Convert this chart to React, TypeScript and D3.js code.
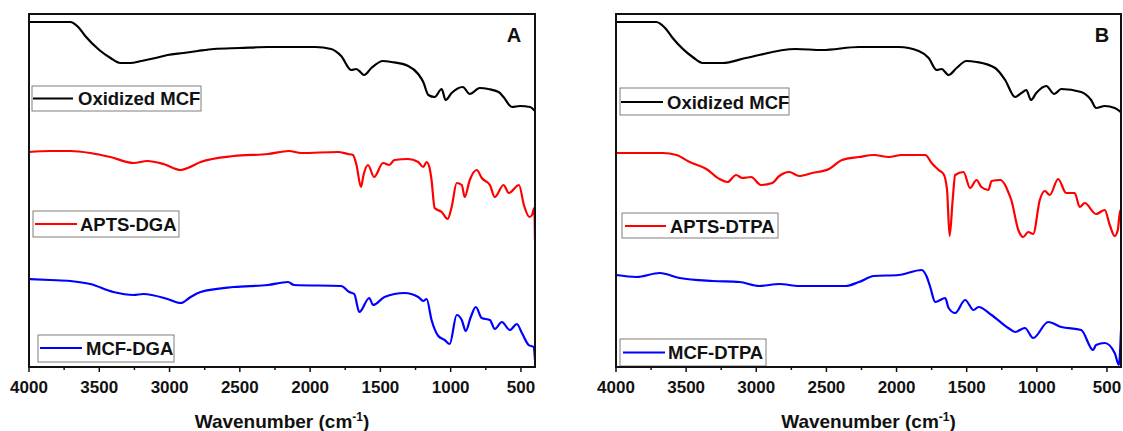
import React from "react";
import * as d3 from "d3";

// Wavenumber (cm-1) / transmittance (a.u.) readings
const oxA_wn = [4000,3850,3707,3650,3600,3500,3420,3350,3280,3200,3100,3014,2900,2800,2686,2500,2300,2100,1964,1850,1779,1707,1671,1650,1616,1564,1481,1421,1302,1231,1195,1159,1114,1064,1036,993,914,864,793,731,659,624,564,507,436,400];
const oxA_v = [345,345,345,340,331,317,309,304,304,306,309,312,314,316,318,319,320,320,320,318,311,297,298,296,292,299,306,305,301,293,285,272,270,278,267,274,280,273,279,278,275,270,260,261,260,256];

const aptsA_wn = [4000,3850,3707,3564,3421,3257,3157,3043,2921,2871,2779,2543,2300,2150,2064,1802,1731,1695,1670,1638,1620,1588,1545,1481,1436,1400,1302,1231,1195,1171,1150,1136,1114,1064,1021,993,957,921,900,864,814,779,721,686,624,586,514,479,440,421,405,400];
const aptsA_v = [215,216,216,214,210,204,206,203,197,199,205,211,213,216,214,215,213,212,202,180,192,202,190,204,202,207,208,205,200,205,199,187,159,155,148,160,184,182,170,187,197,189,182,170,182,174,182,162,150,152,159,127];

const mcfA_wn = [4000,3850,3707,3564,3400,3257,3186,3014,2921,2850,2779,2543,2300,2157,2114,1779,1721,1686,1650,1579,1552,1471,1329,1231,1195,1171,1136,1088,1043,1007,957,921,893,857,821,779,721,686,636,579,529,493,445,410,400];
const mcfA_v = [88,87,86,83,75,72,73,68,64,70,75,80,82,85,82,81,75,73,55,69,62,70,74,70,66,68,47,31,27,23,52,47,36,50,60,49,47,38,45,37,43,34,22,20,7];

const oxB_wn = [4000,3713,3650,3596,3454,3383,3241,3074,2719,2531,2268,1984,1842,1771,1714,1679,1629,1572,1502,1430,1297,1226,1155,1110,1075,1042,1004,933,876,826,684,613,578,516,445,410,400];
const oxB_v = [345,345,339,329,310,304,304,309,318,317,320,320,316,309,297,298,292,299,306,305,299,287,270,274,277,267,274,281,273,278,275,267,259,261,259,256,255];

const aptsB_wn = [4000,3666,3569,3475,3356,3262,3205,3144,3099,3037,2966,2886,2836,2765,2694,2602,2481,2389,2268,2162,2055,1963,1795,1750,1700,1665,1640,1622,1600,1582,1523,1476,1430,1395,1345,1323,1262,1226,1204,1182,1132,1097,1062,1026,979,943,908,848,791,730,694,659,578,516,480,445,423,405,400];
const aptsB_v = [214,214,212,205,198,188,185,192,189,190,182,184,191,195,191,194,198,207,210,212,210,212,212,204,197,193,177,131,167,192,195,179,187,180,177,186,187,182,175,167,137,130,135,133,167,176,172,188,174,174,160,164,153,157,142,131,137,157,157];

const mcfB_wn = [4000,3853,3688,3546,3312,3120,2978,2836,2694,2505,2363,2268,2162,1984,1821,1784,1760,1724,1653,1629,1582,1511,1451,1416,1323,1204,1155,1085,1026,919,826,684,599,578,516,445,415,400];
const mcfB_v = [92,90,94,89,86,85,81,83,81,81,81,85,91,92,97,90,80,65,69,59,54,67,57,60,52,39,35,39,29,45,40,37,17,22,24,14,2,37];

const xTicks = [4000, 3500, 3000, 2500, 2000, 1500, 1000, 500];
const xMinor = [3750, 3250, 2750, 2250, 1750, 1250, 750];

const FONT = "'Liberation Sans', Arial, Helvetica, sans-serif";

type Series = { name: string; color: string; wn: number[]; v: number[]; legend: { x0: number; y0: number; x1: number; y1: number; lx0: number; lx1: number; ly: number; tx: number } };

const panels = [
  {
    id: "A", left: 29, right: 535, top: 14, bottom: 367, letterX: 514,
    series: [
      { name: "Oxidized MCF", color: "#000000", wn: oxA_wn, v: oxA_v, legend: { x0: 32, y0: 86, x1: 201, y1: 111, lx0: 33, lx1: 73, ly: 98.5, tx: 78 } },
      { name: "APTS-DGA", color: "#ff0000", wn: aptsA_wn, v: aptsA_v, legend: { x0: 33, y0: 211, x1: 179, y1: 237, lx0: 35, lx1: 77, ly: 224, tx: 80 } },
      { name: "MCF-DGA", color: "#0000ff", wn: mcfA_wn, v: mcfA_v, legend: { x0: 38, y0: 335, x1: 174, y1: 362, lx0: 40, lx1: 82, ly: 348, tx: 86 } },
    ] as Series[],
  },
  {
    id: "B", left: 616, right: 1121, top: 14, bottom: 367, letterX: 1102,
    series: [
      { name: "Oxidized MCF", color: "#000000", wn: oxB_wn, v: oxB_v, legend: { x0: 620, y0: 88, x1: 789, y1: 115, lx0: 621, lx1: 663, ly: 102, tx: 667 } },
      { name: "APTS-DTPA", color: "#ff0000", wn: aptsB_wn, v: aptsB_v, legend: { x0: 622, y0: 213, x1: 778, y1: 238, lx0: 625, lx1: 666, ly: 226, tx: 670 } },
      { name: "MCF-DTPA", color: "#0000ff", wn: mcfB_wn, v: mcfB_v, legend: { x0: 620, y0: 339, x1: 766, y1: 366, lx0: 623, lx1: 665, ly: 352.5, tx: 668 } },
    ] as Series[],
  },
];

function Panel({ p }: { p: typeof panels[number] }) {
  const x = d3.scaleLinear().domain([4000, 400]).range([p.left, p.right]);
  const y = d3.scaleLinear().domain([0, 353]).range([p.bottom, p.top]);
  const clipId = "clip" + p.id;
  return (
    <g>
      <defs>
        <clipPath id={clipId}>
          <rect x={p.left} y={p.top} width={p.right - p.left} height={p.bottom - p.top} />
        </clipPath>
      </defs>
      <g clipPath={`url(#${clipId})`}>
        {p.series.map((s) => {
          const pts: [number, number][] = s.wn.map((w, i) => [w, s.v[i]]);
          const line = d3.line<[number, number]>().x((d) => x(d[0])).y((d) => y(d[1])).curve(d3.curveMonotoneX);
          return <path key={s.name} d={line(pts.slice().reverse()) || ""} fill="none" stroke={s.color} strokeWidth={2.2} strokeLinejoin="round" />;
        })}
      </g>
      {p.series.map((s) => (
        <g key={"lg" + s.name}>
          <rect x={s.legend.x0} y={s.legend.y0} width={s.legend.x1 - s.legend.x0} height={s.legend.y1 - s.legend.y0} fill="#fff" stroke="#7f7f7f" strokeWidth={1} />
          <line x1={s.legend.lx0} x2={s.legend.lx1} y1={s.legend.ly} y2={s.legend.ly} stroke={s.color} strokeWidth={2} />
          <text x={s.legend.tx} y={s.legend.ly + 6.5} fontFamily={FONT} fontWeight="bold" fontSize={18.5} fill="#111">{s.name}</text>
        </g>
      ))}
      <rect x={p.left} y={p.top} width={p.right - p.left} height={p.bottom - p.top} fill="none" stroke="#111" strokeWidth={2} />
      {xTicks.map((t) => (
        <g key={"t" + t}>
          <line x1={x(t)} x2={x(t)} y1={p.bottom} y2={p.bottom + 5} stroke="#111" strokeWidth={1.5} />
          <text x={x(t)} y={393} textAnchor="middle" fontFamily={FONT} fontWeight="bold" fontSize={17} fill="#111">{t}</text>
        </g>
      ))}
      {xMinor.map((t) => (
        <line key={"m" + t} x1={x(t)} x2={x(t)} y1={p.bottom} y2={p.bottom + 3} stroke="#111" strokeWidth={1.5} />
      ))}
      <text x={(p.left + p.right) / 2} y={428} textAnchor="middle" fontFamily={FONT} fontWeight="bold" fontSize={19} fill="#111">
        Wavenumber (cm<tspan dy={-7} fontSize={12}>-1</tspan><tspan dy={7}>)</tspan>
      </text>
      <text x={p.letterX} y={41.5} textAnchor="middle" fontFamily={FONT} fontWeight="bold" fontSize={20} fill="#111">{p.id}</text>
    </g>
  );
}

export default function App() {
  return (
    <svg width={1123} height={431} style={{ position: "absolute", left: 0, top: 0, background: "#fff" }}>
      <rect x={0} y={0} width={1123} height={431} fill="#fff" />
      {panels.map((p) => <Panel key={p.id} p={p} />)}
    </svg>
  );
}
